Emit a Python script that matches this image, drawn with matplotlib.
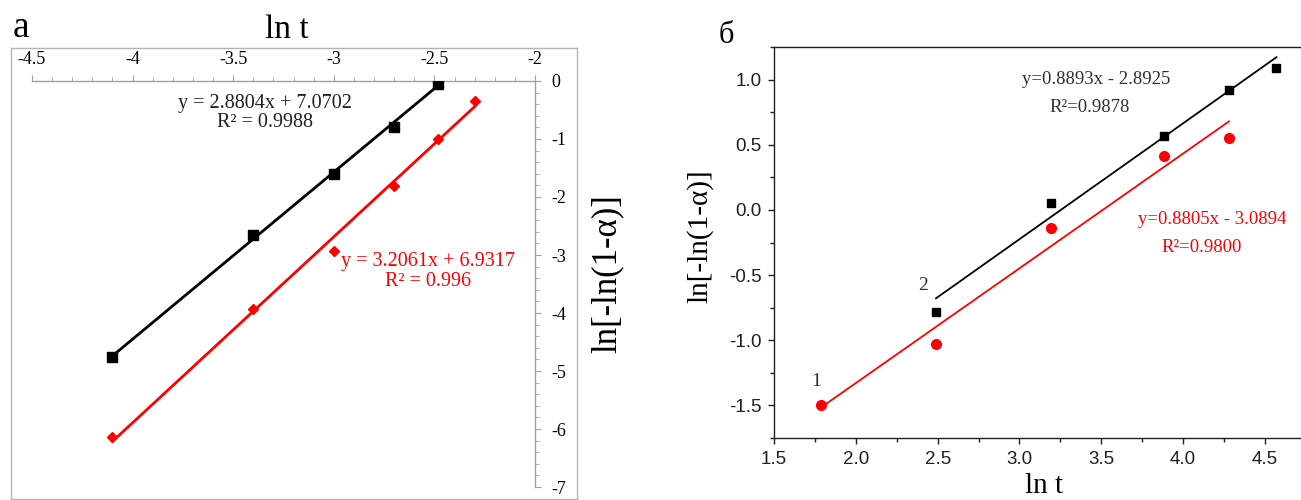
import numpy as np
import matplotlib
matplotlib.use("Agg")
import matplotlib.pyplot as plt
from matplotlib.ticker import MultipleLocator, FormatStrFormatter

plt.rcParams['font.family'] = ['Liberation Serif', 'DejaVu Serif']

# --- panel a data ---
lnt_a_black = [-4.1, -3.4, -3.0, -2.7, -2.48]
y_a_black = [-4.76, -2.65, -1.61, -0.79, -0.05]
lnt_a_red = [-4.1, -3.4, -3.0, -2.7, -2.48, -2.3]
y_a_red = [-6.14, -3.93, -2.93, -1.81, -1.0, -0.34]
fit_a = {'black': (2.8804, 7.0702), 'red': (3.2061, 6.9317)}
eq_a = ['y = 2.8804x + 7.0702\nR² = 0.9988', 'y = 3.2061x + 6.9317\nR² = 0.996']

# --- panel b data ---
lnt_b_black = [2.49, 3.19, 3.88, 4.28, 4.57]
y_b_black = [-0.78, 0.05, 0.57, 0.92, 1.09]
lnt_b_red = [1.79, 2.49, 3.19, 3.88, 4.28]
y_b_red = [-1.50, -1.03, -0.14, 0.41, 0.55]
fit_b = {'black': (0.8893, -2.8925), 'red': (0.8805, -3.0894)}
eq_b = ['y=0.8893x - 2.8925\nR²=0.9878', 'y=0.8805x - 3.0894\nR²=0.9800']

W, H = 1301, 500


def box(l, t, r, b):
    return [l / W, 1 - b / H, (r - l) / W, (b - t) / H]


def fit_line(ax, xs, coef, color, lw):
    x = np.array([min(xs), max(xs)])
    ax.plot(x, coef[0] * x + coef[1], color=color, lw=lw, zorder=2)


fig = plt.figure(figsize=(W / 100, H / 100), dpi=100)

# ---------------- panel a ----------------
frame = fig.add_axes(box(11, 48, 577, 499))
frame.set_xticks([])
frame.set_yticks([])
for s in frame.spines.values():
    s.set_color('#b4b4b4')
    s.set_linewidth(1.0)

ax = fig.add_axes(box(32, 81, 535, 487))
ax.patch.set_alpha(0)
ax.set_xlim(-4.5, -2)
ax.set_ylim(-7, 0)
ax.spines['left'].set_visible(False)
ax.spines['bottom'].set_visible(False)
for s in ('top', 'right'):
    ax.spines[s].set_color('#a0a0a0')
    ax.spines[s].set_linewidth(1.0)
ax.xaxis.tick_top()
ax.yaxis.tick_right()
ax.xaxis.set_major_locator(MultipleLocator(0.5))
ax.xaxis.set_minor_locator(MultipleLocator(0.1))
ax.yaxis.set_major_locator(MultipleLocator(1))
ax.yaxis.set_minor_locator(MultipleLocator(0.2))
ax.xaxis.set_major_formatter(FormatStrFormatter('%g'))
ax.yaxis.set_major_formatter(FormatStrFormatter('%g'))
ax.tick_params(which='both', direction='out', color='#a0a0a0', labelsize=13,
               labelcolor='black')
ax.tick_params(axis='x', which='major', length=4, pad=5)
ax.tick_params(axis='x', which='minor', length=3)
ax.tick_params(axis='y', which='major', length=4, pad=8)
ax.tick_params(axis='y', which='minor', length=3)

fit_line(ax, lnt_a_black, fit_a['black'], 'black', 2.0)
fit_line(ax, lnt_a_red, fit_a['red'], '#ff0000', 2.0)
ax.plot(lnt_a_black, y_a_black, 's', color='black', ms=6.5, zorder=3)
ax.plot(lnt_a_red, y_a_red, 'D', color='#ff0000', ms=5.5, zorder=3)
ax.text(-3.34, -0.55, eq_a[0], ha='center', va='center', fontsize=14.5,
        color='#202020', linespacing=1.05)
ax.text(-2.53, -3.28, eq_a[1], ha='center', va='center', fontsize=14.5,
        color='#ff0000', linespacing=1.05)

fig.text(21 / W, 1 - 37 / H, 'a', fontsize=27, ha='center', va='baseline')
fig.text(287 / W, 1 - 38 / H, 'ln t', fontsize=24, ha='center', va='baseline')
fig.text(607 / W, 1 - 274 / H, 'ln[-ln(1-α)]', fontsize=25, rotation=90,
         ha='center', va='center')

# ---------------- panel b ----------------
bx = fig.add_axes(box(774, 47, 1301, 438))
bx.set_xlim(1.5, 4.72)
bx.set_ylim(-1.75, 1.25)
bx.spines['right'].set_visible(False)
for s in ('left', 'bottom', 'top'):
    bx.spines[s].set_linewidth(1.0)
    bx.spines[s].set_color('#202020')
bx.xaxis.set_major_locator(MultipleLocator(0.5))
bx.xaxis.set_minor_locator(MultipleLocator(0.25))
bx.yaxis.set_major_locator(MultipleLocator(0.5))
bx.yaxis.set_minor_locator(MultipleLocator(0.25))
bx.xaxis.set_major_formatter(FormatStrFormatter('%.1f'))
bx.yaxis.set_major_formatter(FormatStrFormatter('%.1f'))
bx.tick_params(which='both', direction='out', color='#202020')
bx.tick_params(which='major', length=4, width=1.0, pad=5)
bx.tick_params(which='minor', length=3, width=1.0)
for lab in bx.get_xticklabels() + bx.get_yticklabels():
    lab.set_fontfamily('Liberation Sans')
    lab.set_fontsize(13.5)
    lab.set_color('#202020')

fit_line(bx, lnt_b_black, fit_b['black'], 'black', 1.3)
fit_line(bx, lnt_b_red, fit_b['red'], '#ff0000', 1.3)
bx.plot(lnt_b_black, y_b_black, 's', color='black', ms=6, zorder=3)
bx.plot(lnt_b_red, y_b_red, 'o', color='#ff0000', ms=7, zorder=3)
black_eq, black_r2 = eq_b[0].split('\n')
red_eq, red_r2 = eq_b[1].split('\n')
bx.text(3.47, 1.00, black_eq, ha='center', va='center', fontsize=13.5,
        color='#303030')
bx.text(3.43, 0.785, black_r2, ha='center', va='center', fontsize=13.5,
        color='#303030')
bx.text(4.18, -0.07, red_eq, ha='center', va='center', fontsize=13.5,
        color='#ff0000')
bx.text(4.11, -0.285, red_r2, ha='center', va='center', fontsize=13.5,
        color='#ff0000')
bx.text(1.76, -1.32, '1', ha='center', va='center', fontsize=14, color='#303030')
bx.text(2.41, -0.58, '2', ha='center', va='center', fontsize=14, color='#303030')

fig.text(726 / W, 1 - 43 / H, 'б', fontsize=22, ha='center', va='baseline')
fig.text(1044 / W, 1 - 493 / H, 'ln t', fontsize=21, ha='center', va='baseline')
fig.text(700 / W, 1 - 236 / H, 'ln[-ln(1-α)]', fontsize=21, rotation=90,
         ha='center', va='center')

fig.savefig('out.png', dpi=100)
